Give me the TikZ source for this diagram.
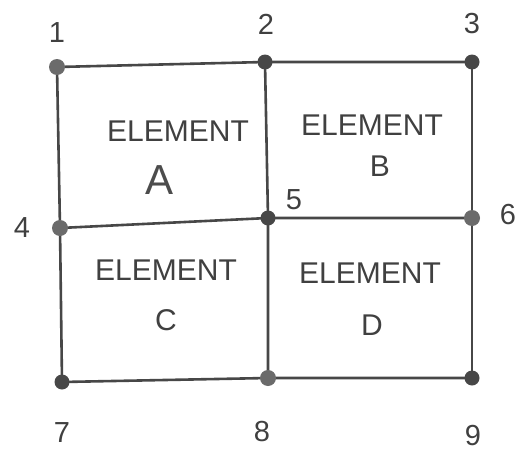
\documentclass[tikz,border=0pt]{standalone}
\usepackage{fontspec}
\setmainfont{Liberation Sans}
\begin{document}
\begin{tikzpicture}[x=1pt,y=-1pt,
  edge/.style={draw=black!72, line width=2.6pt, line cap=round},
  dot/.style={circle, fill=black!58, inner sep=0pt, minimum size=16pt},
  darkdot/.style={circle, fill=black!72, inner sep=0pt, minimum size=15pt},
  num/.style={text=black!75, font=\fontsize{29}{29}\selectfont},
  lbl/.style={text=black!75, font=\fontsize{30}{30}\selectfont, inner sep=0pt},
  big/.style={text=black!70, font=\fontsize{42}{42}\selectfont, inner sep=0pt}]
\useasboundingbox (0,0) rectangle (528,458);
\fill[white] (0,0) rectangle (528,458);
% node positions
\coordinate (p1) at (57,67);
\coordinate (p2) at (265,62);
\coordinate (p3) at (472,62);
\coordinate (p4) at (60,228);
\coordinate (p5) at (268,218);
\coordinate (p6) at (472,218);
\coordinate (p7) at (62,382);
\coordinate (p8) at (268,378);
\coordinate (p9) at (472,378);
% edges
\draw[edge] (p1) -- (p2) -- (p3);
\draw[edge] (p4) -- (p5) -- (p6);
\draw[edge] (p7) -- (p8) -- (p9);
\draw[edge] (p1) -- (p4) -- (p7);
\draw[edge] (p2) -- (p5) -- (p8);
\draw[edge] (p3) -- (p6) -- (p9);
% dots
\node[dot] (n1) at (p1) {};
\node[darkdot] (n2) at (p2) {};
\node[darkdot] (n3) at (p3) {};
\node[dot] (n4) at (p4) {};
\node[darkdot] (n5) at (p5) {};
\node[dot] (n6) at (p6) {};
\node[darkdot] (n7) at (p7) {};
\node[dot] (n8) at (p8) {};
\node[darkdot] (n9) at (p9) {};
% numbers
\node[num] (t1) at (57,33) {1};
\node[num] (t2) at (266,24) {2};
\node[num] (t3) at (472,24) {3};
\node[num] (t4) at (22,228) {4};
\node[num] (t5) at (294,200) {5};
\node[num] (t6) at (508,215) {6};
\node[num] (t7) at (62,433) {7};
\node[num] (t8) at (262,432) {8};
\node[num] (t9) at (473,436) {9};
% element labels
\node[lbl] (ea) at (178,131) {ELEMENT};
\node[big] (la) at (160,180) {A};
\node[lbl] (eb) at (372,125) {ELEMENT};
\node[lbl] (lb) at (380,166) {B};
\node[lbl] (ec) at (166,270) {ELEMENT};
\node[lbl] (lc) at (166,320) {C};
\node[lbl] (ed) at (370,273) {ELEMENT};
\node[lbl] (ld) at (372,325) {D};
\end{tikzpicture}
\end{document}
